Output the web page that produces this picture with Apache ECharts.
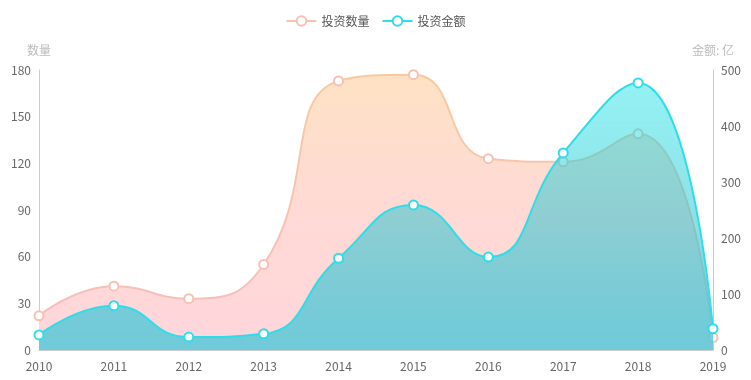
<!DOCTYPE html>
<html>
<head>
<meta charset="utf-8">
<script src="https://cdn.jsdelivr.net/npm/echarts@6/dist/echarts.min.js"></script>
<style>html,body{margin:0;padding:0;background:#fff}#c{width:751px;height:380px}</style>
</head>
<body>
<div id="c"></div>
<script>
var years = ['2010','2011','2012','2013','2014','2015','2016','2017','2018','2019'];
var countValues = [22, 41, 33, 55, 173, 177, 123, 121, 139, 8];
var amountValues = [27, 79, 23, 29, 164, 259, 166, 352, 477, 38];
var seriesNames = ['投资数量', '投资金额'];
var leftAxisName = '数量';
var rightAxisName = '金额: 亿';

var chart = echarts.init(document.getElementById('c'));
var font = '"Noto Sans CJK SC", "Noto Sans", sans-serif';
chart.setOption({
  animation: false,
  textStyle: {fontFamily: font},
  legend: {
    top: 10, left: 'center', itemWidth: 30, itemHeight: 12, itemGap: 12,
    textStyle: {color: '#555', fontSize: 12, fontFamily: font},
    data: seriesNames
  },
  grid: {left: 39, right: 38, top: 70, bottom: 30},
  xAxis: {
    type: 'category', data: years, boundaryGap: false,
    axisLine: {lineStyle: {color: '#ccc'}},
    axisTick: {show: false},
    axisLabel: {color: '#666', fontSize: 12, margin: 10}
  },
  yAxis: [{
    type: 'value', min: 0, max: 180, interval: 30, name: leftAxisName,
    nameTextStyle: {color: '#bbb', fontSize: 12},
    nameGap: 14,
    axisLine: {show: true, lineStyle: {color: '#ccc'}},
    axisTick: {show: false}, splitLine: {show: false},
    axisLabel: {color: '#666', fontSize: 12, margin: 8}
  }, {
    type: 'value', min: 0, max: 500, interval: 100, name: rightAxisName,
    nameTextStyle: {color: '#bbb', fontSize: 12},
    nameGap: 14,
    axisLine: {show: true, lineStyle: {color: '#ccc'}},
    axisTick: {show: false}, splitLine: {show: false},
    axisLabel: {color: '#666', fontSize: 12, margin: 8}
  }],
  series: [{
    name: seriesNames[0], type: 'line', smooth: true, yAxisIndex: 0,
    data: countValues,
    symbol: 'emptyCircle', symbolSize: 9,
    itemStyle: {color: '#f7c0b4', borderColor: '#f7bfa8', borderWidth: 1.5},
    lineStyle: {width: 2, color: new echarts.graphic.LinearGradient(0,0,0,1,[
      {offset: 0, color: '#f8c9a0'}, {offset: 1, color: '#f8bcc0'}])},
    areaStyle: {opacity: 1, color: new echarts.graphic.LinearGradient(0,0,0,1,[
      {offset: 0, color: 'rgb(254,226,196)'}, {offset: 0.45, color: 'rgb(255,218,212)'}, {offset: 1, color: 'rgb(255,214,220)'}])},
    z: 2
  }, {
    name: seriesNames[1], type: 'line', smooth: true, yAxisIndex: 1,
    data: amountValues,
    symbol: 'emptyCircle', symbolSize: 9,
    itemStyle: {color: '#2fdde8', borderColor: '#2fdde8', borderWidth: 1.5},
    lineStyle: {width: 2, color: '#2fdde8'},
    areaStyle: {opacity: 1, color: new echarts.graphic.LinearGradient(0,0,0,1,[
      {offset: 0, color: 'rgba(0,222,228,0.42)'},
      {offset: 0.5, color: 'rgba(40,196,208,0.52)'},
      {offset: 1, color: 'rgba(76,199,217,0.8)'}])},
    z: 3
  }]
});
</script>
</body>
</html>
